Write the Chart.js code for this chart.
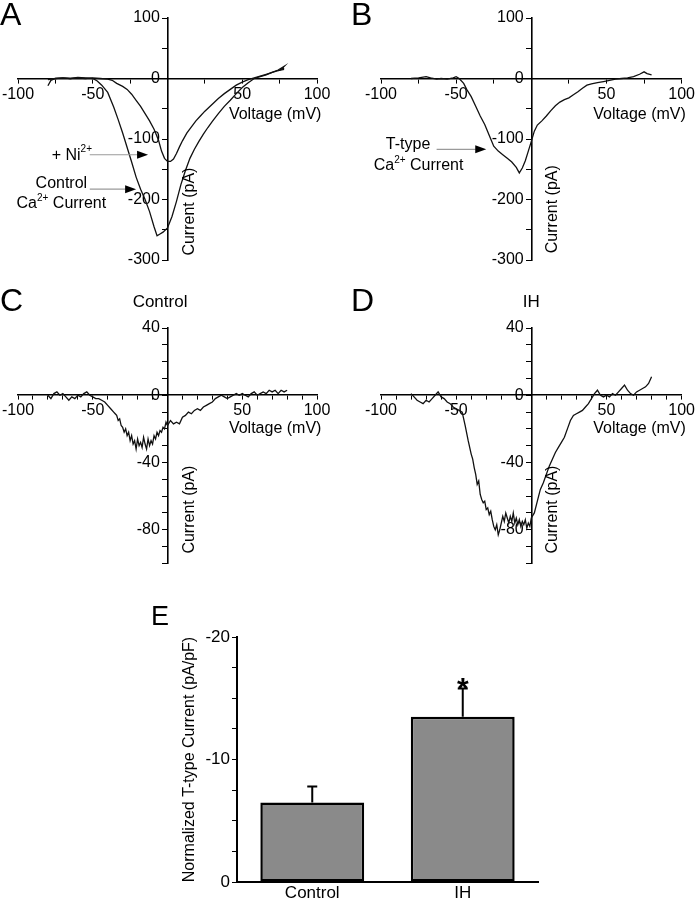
<!DOCTYPE html>
<html>
<head>
<meta charset="utf-8">
<script src="https://cdn.jsdelivr.net/npm/chart.js@4.4.0/dist/chart.umd.min.js"></script>
<style>
  body { margin: 0; background: #fff; }
  #fig { position: relative; width: 697px; height: 900px; font-family: "Liberation Sans", Arial, sans-serif; }
  .box { position: absolute; }
  .letter { position: absolute; font-size: 32px; line-height: 32px; color: #000; }
</style>
</head>
<body>
<div id="fig">
  <div class="box" style="left:0;top:0"><canvas id="chartA" width="345" height="285"></canvas></div>
  <div class="box" style="left:350px;top:0"><canvas id="chartB" width="347" height="285"></canvas></div>
  <div class="box" style="left:0;top:280px"><canvas id="chartC" width="345" height="295"></canvas></div>
  <div class="box" style="left:350px;top:280px"><canvas id="chartD" width="347" height="295"></canvas></div>
  <div class="box" style="left:140px;top:595px"><canvas id="chartE" width="430" height="305"></canvas></div>
  <div class="letter" style="left:0;top:-2px">A</div>
  <div class="letter" style="left:351px;top:-2px">B</div>
  <div class="letter" style="left:0;top:284px">C</div>
  <div class="letter" style="left:351px;top:284px">D</div>
  <div class="letter" style="left:151px;top:603px;font-size:27px;line-height:27px">E</div>
</div>
<script>
const FONT = '"Liberation Sans", Arial, sans-serif';
Chart.defaults.font.family = FONT;
Chart.defaults.color = '#000';

// --- A: whole Ca current vs + Ni2+ ---
const voltsA_ctrl = [-80,-78,-75,-70,-65,-60,-55,-50,-47,-44,
  -40,-36,-33,-30,-27,-24,-21,-18,-15,-12,
  -9,-7,-5,-3,0,3,6,9,12,15,
  18,21,24,27,30,34,38,42,46,50,
  54,58,62,66,70,74,78,76,78];
const currA_ctrl = [-12,-3,0,1,0,2,1,0,-4,-11,
  -23,-47,-68,-90,-114,-138,-163,-183,-200,-220,
  -245,-260,-257,-254,-247,-228,-203,-175,-152,-132,
  -117,-104,-92,-81,-71,-58,-46,-36,-25,-15,
  -7,0,3,6,10,14,20,15,17];
const voltsA_ni = [-80,-75,-70,-65,-60,-55,-50,-45,-40,-37,
  -34,-30,-27,-24,-21,-18,-15,-12,-9,-6,
  -4,-2,0,2,4,6,8,10,13,16,
  19,22,25,28,31,34,38,42,46,50,
  54,58,62,66,70,74,78];
const currA_ni = [-2,0,1,0,1,0,1,0,-1,-3,
  -8,-13,-18,-26,-36,-46,-58,-70,-84,-102,
  -120,-132,-137,-137,-133,-124,-113,-103,-90,-80,
  -70,-62,-54,-47,-40,-33,-25,-18,-11,-6,
  -2,1,4,7,10,13,15];

// --- B: T-type (subtracted) ---
const voltsB = [-80,-75,-70,-67,-63,-60,-56,-52,-50,-48,
  -45,-43,-40,-37,-34,-31,-29,-27,-25,-22,
  -19,-16,-13,-10,-8,-6,-4,-2,0,2,
  4,7,10,13,16,19,22,25,28,31,
  34,37,40,44,48,52,56,60,64,68,
  72,75,77,80];
const currB = [0,1,3,1,-1,0,-1,1,3,0,
  -8,-18,-30,-46,-62,-76,-88,-100,-112,-120,
  -126,-132,-138,-147,-156,-148,-136,-120,-104,-87,
  -77,-70,-62,-53,-45,-39,-35,-32,-27,-22,
  -16,-11,-9,-7,-5,-3,-1,0,1,3,
  7,11,8,6];

// --- C: Control ---
const voltsC = [-80,-78,-76,-74,-72,-70,-68,-66,-64,-62,
  -60,-58,-56,-54,-52,-50,-48,-46,-44,-42,
  -40,-38,-36,
  -35,-34,-33,-32,-31,-30,-29,-28,-27,-26,
  -25,-24,-23,-22,-21,-20,-19,-18,-17,-16,
  -15,-14,-13,-12,-11,-10,-9,-8,-7,-6,
  -5,-4,-3,-2,-1,0,
  2,4,6,8,10,12,14,16,18,20,
  22,24,26,28,30,32,34,36,38,40,
  42,44,46,48,50,52,54,56,58,60,
  62,64,66,68,70,72,74,76,78,80];
const currC = [0,-2,1,2,0,1,-1,-3,-1,-2,
  0,-1,1,2,0,-1,-2,-2,-3,-4,
  -6,-8,-10,
  -11,-12,-15,-14,-18,-19,-22,-20,-24,-22,
  -27,-24,-29,-27,-32,-26,-30,-28,-31,-25,
  -29,-32,-26,-30,-27,-29,-24,-26,-22,-24,
  -21,-22,-19,-20,-16,-18,
  -15,-17,-16,-17,-13,-12,-10,-11,-9,-8,
  -9,-7,-6,-5,-4,-2,-1,0,-1,-2,
  -1,0,1,0,1,0,-1,1,2,0,
  1,2,1,3,2,3,1,3,2,3];

// --- D: IH ---
const voltsD = [-80,-78,-76,-74,-72,-70,-68,-66,-64,-62,
  -60,-58,-56,-54,-52,-50,-48,-46,-44,-42,
  -40,-39,-38,-37,-36,-35,-34,-33,-32,-31,
  -30,-29,-28,-27,-26,-25,-24,-23,-22,-21,
  -20,-19,-18,-17,-16,-15,-14,-13,-12,-11,
  -10,-9,-8,-7,-6,-5,-4,-3,-2,-1,
  0,
  2,4,6,8,10,12,14,16,18,20,
  22,24,26,28,30,32,34,36,38,40,
  42,44,46,48,50,52,54,56,58,60,
  62,64,66,68,70,72,74,76,78,80];
const currD = [1,-1,-3,-4,-5,-3,-4,-2,0,2,
  -1,-2,-4,-5,-7,-8,-9,-10,-18,-27,
  -35,-38,-43,-47,-53,-51,-59,-62,-64,-63,
  -68,-67,-71,-69,-74,-78,-80,-77,-83,-80,
  -76,-72,-75,-70,-73,-76,-72,-75,-70,-76,
  -73,-77,-74,-78,-75,-77,-74,-79,-76,-78,
  -73,
  -70,-63,-56,-52,-47,-42,-38,-34,-31,-28,
  -25,-20,-15,-12,-11,-10,-9,-7,-5,-2,
  1,3,0,-1,0,-1,1,0,2,4,
  6,3,1,0,2,3,4,5,7,11];

// --- E: bar summary ---
const groupsE = ['Control', 'IH'];
const meansE = [-6.5, -13.5];
const errsE = [1.3, 2.3];
const yTicksE = [-20, -10, 0];

function pts(xs, ys) {
  return xs.map((v, i) => ({x: v, y: ys[i]}));
}

// rich text with superscripts: parts = [[text, isSup], ...]
function drawRich(ctx, parts, x, y, size, align) {
  const fonts = parts.map(p => p[1] ? Math.round(size * 0.6) + 'px ' + FONT : size + 'px ' + FONT);
  let w = 0;
  parts.forEach((p, i) => { ctx.font = fonts[i]; w += ctx.measureText(p[0]).width; });
  let cx = align === 'center' ? x - w / 2 : (align === 'right' ? x - w : x);
  ctx.textAlign = 'left';
  ctx.textBaseline = 'middle';
  parts.forEach((p, i) => {
    ctx.font = fonts[i];
    ctx.fillText(p[0], cx, p[1] ? y - size * 0.35 : y);
    cx += ctx.measureText(p[0]).width;
  });
}

const notesPlugin = {
  id: 'notes',
  afterDraw(chart, args, opts) {
    const ctx = chart.ctx;
    const sx = chart.scales.x, sy = chart.scales.y;
    ctx.save();
    ctx.fillStyle = '#000';
    (opts.arrows || []).forEach(a => {
      const x1 = sx.getPixelForValue(a[0]), x2 = sx.getPixelForValue(a[1]);
      const y = sy.getPixelForValue(a[2]);
      ctx.strokeStyle = '#9a9a9a';
      ctx.lineWidth = 1.2;
      ctx.beginPath(); ctx.moveTo(x1, y); ctx.lineTo(x2 - 8, y); ctx.stroke();
      ctx.fillStyle = '#000';
      ctx.beginPath(); ctx.moveTo(x2, y); ctx.lineTo(x2 - 11, y - 4); ctx.lineTo(x2 - 11, y + 4); ctx.closePath(); ctx.fill();
    });
    (opts.labels || []).forEach(t => {
      const x = sx.getPixelForValue(t.at[0]), y = sy.getPixelForValue(t.at[1]);
      ctx.fillStyle = '#000';
      if (t.rotate) {
        ctx.save();
        ctx.translate(x, y);
        ctx.rotate(-Math.PI / 2);
        drawRich(ctx, t.parts, 0, 0, t.size || 16, 'center');
        ctx.restore();
      } else {
        drawRich(ctx, t.parts, x, y, t.size || 16, t.align || 'center');
      }
    });
    ctx.restore();
  }
};

function ivScales(yMin, yMax, yStep, yLabelEvery, xStep) {
  return {
    x: {
      type: 'linear', min: -100, max: 100, position: {y: 0},
      ticks: {
        stepSize: xStep, autoSkip: false, maxRotation: 0, padding: 2,
        font: {size: 16},
        callback: v => (v % 50 === 0 && v !== 0) ? String(v) : ''
      },
      grid: {drawOnChartArea: false, tickLength: 4, color: '#000', tickWidth: 1},
      border: {color: '#000', width: 1.6}
    },
    y: {
      type: 'linear', min: yMin, max: yMax, position: {x: 0},
      ticks: {
        stepSize: yStep, autoSkip: false, padding: 2,
        font: {size: 16},
        // centred axis: labels sit flush on the line, so pad with a space
        callback: v => (v % yLabelEvery === 0) ? String(v) + ' \u2009' : ''
      },
      grid: {drawOnChartArea: false, tickLength: 5, color: '#000', tickWidth: 1},
      border: {color: '#000', width: 1.6}
    }
  };
}

function trace(data) {
  return {data: data, showLine: true, borderColor: '#111', borderWidth: 1.3, pointRadius: 0, tension: 0, fill: false};
}

function ivChart(id, datasets, scales, pad, notes) {
  return new Chart(document.getElementById(id), {
    type: 'scatter',
    data: {datasets: datasets},
    options: {
      responsive: false, animation: false,
      layout: {padding: pad},
      scales: scales,
      plugins: {legend: {display: false}, tooltip: {enabled: false}, notes: notes}
    },
    plugins: [notesPlugin]
  });
}

const ca = [['Ca', false], ['2+', true], [' Current', false]];

ivChart('chartA',
  [trace(pts(voltsA_ctrl, currA_ctrl)), trace(pts(voltsA_ni, currA_ni))],
  ivScales(-300, 100, 50, 100, 25),
  {left: 16, top: 18, right: 28, bottom: 25},
  {
    arrows: [[-52, -13, -126], [-52, -21, -183]],
    labels: [
      {parts: [['+ Ni', false], ['2+', true]], at: [-64, -127]},
      {parts: [['Control', false]], at: [-71, -174]},
      {parts: ca, at: [-71, -207]},
      {parts: [['Voltage (mV)', false]], at: [72, -60]},
      {parts: [['Current (pA)', false]], at: [15, -220], rotate: true}
    ]
  });

ivChart('chartB',
  [trace(pts(voltsB, currB))],
  ivScales(-300, 100, 50, 100, 25),
  {left: 31, top: 18, right: 15, bottom: 25},
  {
    arrows: [[-63, -30, -117]],
    labels: [
      {parts: [['T-type', false]], at: [-82, -109]},
      {parts: ca, at: [-75, -144]},
      {parts: [['Voltage (mV)', false]], at: [72, -60]},
      {parts: [['Current (pA)', false]], at: [14, -216], rotate: true}
    ]
  });

ivChart('chartC',
  [trace(pts(voltsC, currC))],
  ivScales(-100, 40, 10, 40, 10),
  {left: 16, top: 48, right: 28, bottom: 2},
  {
    labels: [
      {parts: [['Control', false]], at: [-5, 55], size: 17},
      {parts: [['Voltage (mV)', false]], at: [72, -20]},
      {parts: [['Current (pA)', false]], at: [15, -68], rotate: true}
    ]
  });

ivChart('chartD',
  [trace(pts(voltsD, currD))],
  ivScales(-100, 40, 10, 40, 10),
  {left: 31, top: 48, right: 15, bottom: 2},
  {
    labels: [
      {parts: [['IH', false]], at: [0, 55], size: 17},
      {parts: [['Voltage (mV)', false]], at: [72, -20]},
      {parts: [['Current (pA)', false]], at: [14, -68], rotate: true}
    ]
  });

// error bars + asterisk + y title for E
const errPlugin = {
  id: 'errbars',
  afterDatasetsDraw(chart) {
    const ctx = chart.ctx;
    const sy = chart.scales.y;
    const meta = chart.getDatasetMeta(0);
    ctx.save();
    ctx.strokeStyle = '#000';
    ctx.lineWidth = 2;
    meta.data.forEach((bar, i) => {
      const top = sy.getPixelForValue(meansE[i] - errsE[i]);
      ctx.beginPath();
      ctx.moveTo(bar.x, bar.y);
      ctx.lineTo(bar.x, top);
      ctx.moveTo(bar.x - 5, top);
      ctx.lineTo(bar.x + 5, top);
      ctx.stroke();
      if (groupsE[i] === 'IH') {
        ctx.fillStyle = '#000';
        ctx.font = 'bold 30px ' + FONT;
        ctx.textAlign = 'center';
        ctx.textBaseline = 'alphabetic';
        ctx.fillText('*', bar.x, top + 10);
      }
    });
    // y title
    ctx.save();
    ctx.translate(chart.chartArea.left - 47, sy.getPixelForValue(-10));
    ctx.rotate(-Math.PI / 2);
    ctx.fillStyle = '#000';
    ctx.font = '16px ' + FONT;
    ctx.textAlign = 'center';
    ctx.textBaseline = 'middle';
    ctx.fillText('Normalized T-type Current (pA/pF)', 0, 0);
    ctx.restore();
    ctx.restore();
  }
};

new Chart(document.getElementById('chartE'), {
  type: 'bar',
  data: {
    labels: groupsE,
    datasets: [{
      data: meansE,
      backgroundColor: '#8a8a8a',
      borderColor: '#000',
      borderWidth: 2.5,
      borderSkipped: false,
      categoryPercentage: 1,
      barPercentage: 0.69
    }]
  },
  options: {
    responsive: false, animation: false,
    layout: {padding: {left: 52, top: 42, right: 32, bottom: 0}},
    scales: {
      x: {
        afterFit: s => { s.height = 18; },
        ticks: {font: {size: 17}, padding: 1},
        grid: {display: false, drawTicks: false, tickLength: 0},
        border: {color: '#000', width: 2}
      },
      y: {
        min: -20, max: 0, reverse: true,
        afterFit: s => { s.width = 45; },
        ticks: {
          stepSize: 2.5, autoSkip: false, padding: 2, font: {size: 17},
          callback: v => yTicksE.includes(v) ? String(v) : ''
        },
        grid: {drawOnChartArea: false, tickLength: 5, color: '#000'},
        border: {color: '#000', width: 2}
      }
    },
    plugins: {legend: {display: false}, tooltip: {enabled: false}}
  },
  plugins: [errPlugin]
});
</script>
</body>
</html>
